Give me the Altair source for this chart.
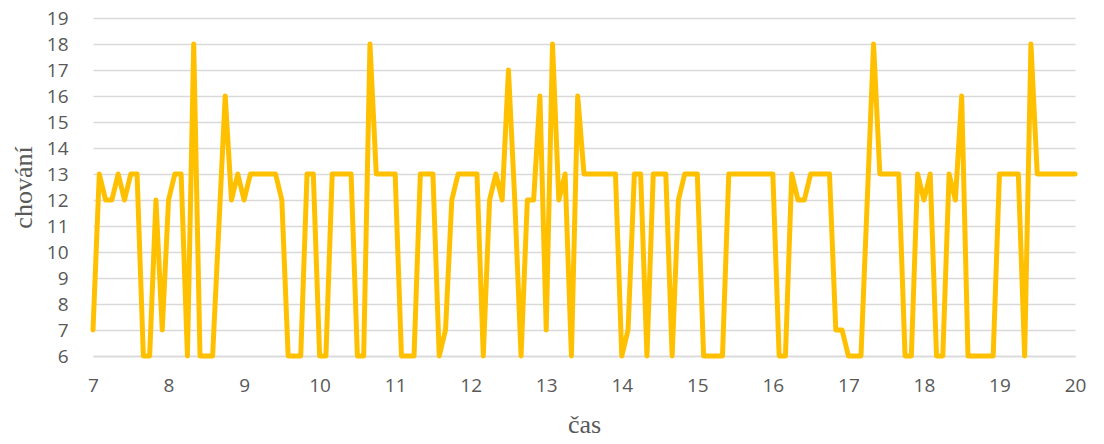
import altair as alt
import pandas as pd

# behaviour score sampled every 5 minutes from 7:00 to 20:00
values = [
    7, 13, 12, 12, 13, 12, 13, 13, 6, 6,
    12, 7, 12, 13, 13, 6, 18, 6, 6, 6,
    11, 16, 12, 13, 12, 13, 13, 13, 13, 13,
    12, 6, 6, 6, 13, 13, 6, 6, 13, 13,
    13, 13, 6, 6, 18, 13, 13, 13, 13, 6,
    6, 6, 13, 13, 13, 6, 7, 12, 13, 13,
    13, 13, 6, 12, 13, 12, 17, 12, 6, 12,
    12, 16, 7, 18, 12, 13, 6, 16, 13, 13,
    13, 13, 13, 13, 6, 7, 13, 13, 6, 13,
    13, 13, 6, 12, 13, 13, 13, 6, 6, 6,
    6, 13, 13, 13, 13, 13, 13, 13, 13, 6,
    6, 13, 12, 12, 13, 13, 13, 13, 7, 7,
    6, 6, 6, 12, 18, 13, 13, 13, 13, 6,
    6, 13, 12, 13, 6, 6, 13, 12, 16, 6,
    6, 6, 6, 6, 13, 13, 13, 13, 6, 18,
    13, 13, 13, 13, 13, 13, 13,
]
start_hour = 7
step_minutes = 5
times = [start_hour + i * step_minutes / 60 for i in range(len(values))]

x_ticks = list(range(7, 21))
y_ticks = list(range(6, 20))

df = pd.DataFrame({"cas": times, "chovani": values})

label_font = "Open Sans"
title_font = "Liberation Serif"
gray = "#595959"

chart = (
    alt.Chart(df)
    .mark_line(color="#FFC000", strokeWidth=5, strokeJoin="round", strokeCap="round")
    .encode(
        x=alt.X(
            "cas:Q",
            scale=alt.Scale(domain=[7, 20], nice=False, zero=False),
            axis=alt.Axis(
                title="čas",
                values=x_ticks,
                grid=False,
                ticks=False,
                domain=True,
                domainColor="#d9d9d9",
                domainWidth=1.3,
                labelFont=label_font,
                labelFontSize=19,
                labelColor=gray,
                labelPadding=20,
                labelFlush=False,
                titleFont=title_font,
                titleFontSize=26,
                titleFontWeight="normal",
                titleColor=gray,
                titleBaseline="alphabetic",
                titleAnchor="middle",
                titleY=76,
            ),
        ),
        y=alt.Y(
            "chovani:Q",
            scale=alt.Scale(domain=[6, 19], nice=False, zero=False),
            axis=alt.Axis(
                title="chování",
                values=y_ticks,
                grid=True,
                gridColor="#d9d9d9",
                gridWidth=1.3,
                ticks=False,
                domain=False,
                labelFont=label_font,
                labelFontSize=19,
                labelColor=gray,
                labelPadding=25,
                labelFlush=False,
                titleFont=title_font,
                titleFontSize=26,
                titleFontWeight="normal",
                titleColor=gray,
                titleAngle=270,
                titleBaseline="alphabetic",
                titleAlign="center",
                titleX=-62,
                titleY=169,
            ),
        ),
    )
    .properties(
        width=982,
        height=338,
        autosize=alt.AutoSizeParams(type="none"),
        padding={"left": 85, "top": 10, "right": 20, "bottom": 78},
    )
    .configure_view(stroke=None)
)

chart.save("out.html", embed_options={"renderer": "svg", "actions": False})
